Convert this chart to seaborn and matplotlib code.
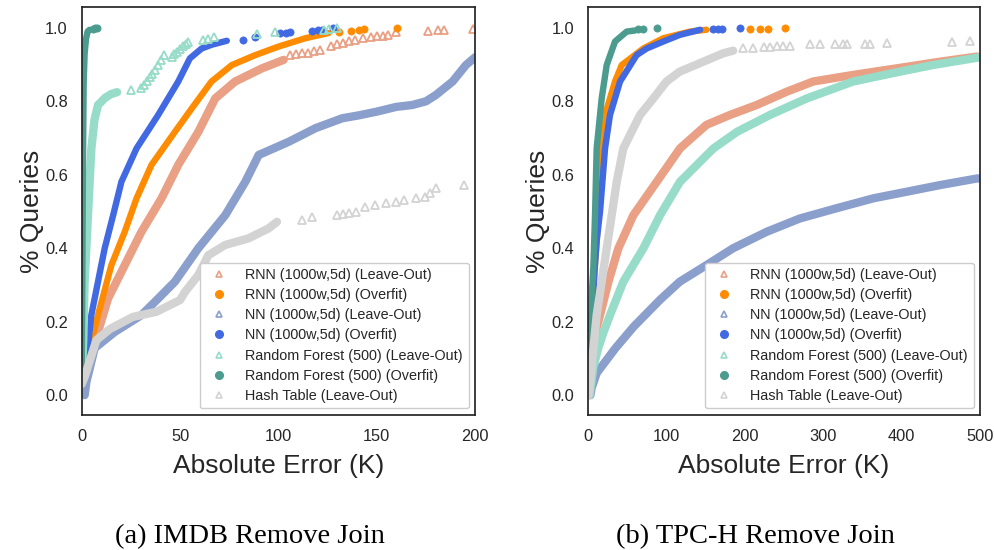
import matplotlib
matplotlib.use("Agg")
import matplotlib.pyplot as plt
from matplotlib.lines import Line2D
import seaborn as sns

# ---------------- data: IMDB Remove Join (panel a) ----------------
imdb_rnn_lo_x = [0.5, 3, 8.3, 13.4, 21.9, 30.4, 40.6, 49.1, 59.3, 67.9, 78, 91.7, 102.7]
imdb_rnn_lo_y = [0.02, 0.08, 0.172, 0.263, 0.354, 0.445, 0.536, 0.627, 0.717, 0.808, 0.854, 0.89, 0.913]
imdb_rnn_lo_tx = [106, 109, 112, 115, 118, 121, 127, 130, 133, 136, 139, 143, 147, 150, 153, 156, 160,
                  176, 181, 184, 199]
imdb_rnn_lo_ty = [0.926, 0.928, 0.931, 0.933, 0.936, 0.94, 0.952, 0.956, 0.96, 0.965, 0.968, 0.972, 0.975,
                  0.977, 0.979, 0.982, 0.988, 0.991, 0.993, 0.993, 0.996]

imdb_rnn_of_x = [0.5, 4, 8.3, 15.1, 21.9, 27.9, 35.5, 47.4, 56, 66, 76.4, 88.3, 100, 113.8, 125.5]
imdb_rnn_of_y = [0.03, 0.128, 0.218, 0.354, 0.445, 0.536, 0.627, 0.717, 0.781, 0.854, 0.899, 0.926, 0.949, 0.972, 0.986]
imdb_rnn_of_tx = [131, 137, 141, 143.5, 160.5]
imdb_rnn_of_ty = [0.988, 0.992, 0.995, 0.996, 1.0]

imdb_nn_lo_x = [1.5, 2.4, 6.6, 16.8, 30.4, 38.9, 47.4, 59.3, 73, 83.2, 90, 105.3, 118.9, 132.5,
                141, 150, 160, 168, 175, 180, 188.6, 195.4, 200]
imdb_nn_lo_y = [0.0, 0.036, 0.128, 0.172, 0.218, 0.263, 0.309, 0.40, 0.49, 0.581, 0.654, 0.69, 0.727, 0.754,
                0.762, 0.772, 0.785, 0.79, 0.80, 0.817, 0.854, 0.899, 0.92]
imdb_nn_lo_tx = []
imdb_nn_lo_ty = []

imdb_nn_of_x = [0.5, 2.5, 4.9, 11.7, 16, 20.2, 27.9, 38.9, 49.1, 55, 61, 66, 73.8]
imdb_nn_of_y = [0.03, 0.1, 0.218, 0.40, 0.49, 0.581, 0.672, 0.763, 0.854, 0.917, 0.944, 0.954, 0.965]
imdb_nn_of_tx = [82, 88, 101, 104, 106, 117, 120, 122, 128]
imdb_nn_of_ty = [0.967, 0.975, 0.986, 0.986, 0.988, 0.992, 0.993, 0.994, 1.0]

imdb_rf_lo_x = [0, 0.8, 1.5, 3.2, 4.9, 6.5, 8.3, 12, 15, 18]
imdb_rf_lo_y = [0.05, 0.15, 0.31, 0.49, 0.67, 0.75, 0.79, 0.81, 0.82, 0.825]
imdb_rf_lo_tx = [25, 30, 31.5, 33, 34.5, 36, 37.5, 39, 40.5, 42, 45.7, 47, 48.5, 50, 51.5, 53, 54,
                 61.5, 64, 67.4, 89, 98.5, 123, 126, 130]
imdb_rf_lo_ty = [0.83, 0.837, 0.845, 0.855, 0.865, 0.875, 0.885, 0.9, 0.912, 0.926, 0.92, 0.928, 0.935,
                 0.942, 0.95, 0.957, 0.963, 0.966, 0.97, 0.976, 0.984, 0.988, 0.994, 0.996, 1.0]

imdb_rf_of_x = [0, 0.3, 0.6, 1.0, 1.5, 2.2, 3.0, 4.0]
imdb_rf_of_y = [0.05, 0.3, 0.6, 0.85, 0.93, 0.97, 0.99, 0.995]
imdb_rf_of_tx = [5.5, 7, 8]
imdb_rf_of_ty = [0.998, 1.0, 1.0]

imdb_hash_x = [0, 1.5, 7.5, 14.3, 26, 38, 50, 52.5, 59.3, 64.4, 73, 84.8, 95, 99.3]
imdb_hash_y = [0.03, 0.05, 0.15, 0.18, 0.213, 0.227, 0.259, 0.281, 0.327, 0.381, 0.409, 0.427, 0.454, 0.472]
imdb_hash_tx = [112, 117, 130, 133, 136, 139.3, 144, 149, 154.6, 160, 164, 170, 174.5, 177, 180, 194.6]
imdb_hash_ty = [0.477, 0.486, 0.49, 0.492, 0.495, 0.499, 0.513, 0.518, 0.522, 0.527, 0.531, 0.536, 0.54, 0.55, 0.563, 0.572]

# ---------------- data: TPC-H Remove Join (panel b) ----------------
tpch_rnn_lo_x = [2, 4, 6.8, 15.3, 26, 38.7, 57.8, 87.6, 117.3, 151, 181, 215, 253, 287, 338, 394, 449, 496]
tpch_rnn_lo_y = [0.0, 0.08, 0.15, 0.218, 0.309, 0.40, 0.49, 0.581, 0.672, 0.736, 0.763, 0.79, 0.826, 0.854,
                 0.872, 0.89, 0.908, 0.922]
tpch_rnn_lo_tx = []
tpch_rnn_lo_ty = []

tpch_rnn_of_x = [1, 3, 5, 8, 12, 17.4, 21.7, 34.4, 43, 70.6, 96, 130, 151]
tpch_rnn_of_y = [0.0, 0.1, 0.2, 0.33, 0.45, 0.672, 0.763, 0.854, 0.899, 0.944, 0.972, 0.99, 0.995]
tpch_rnn_of_tx = [207, 219, 230, 251]
tpch_rnn_of_ty = [0.997, 0.998, 0.998, 1.0]

tpch_nn_lo_x = [3, 4.7, 11, 35, 58, 92, 117, 151, 185, 228, 270, 317, 364, 406.5, 449, 496, 500]
tpch_nn_lo_y = [0.0, 0.02, 0.06, 0.128, 0.186, 0.26, 0.309, 0.354, 0.40, 0.445, 0.481, 0.509, 0.536, 0.554,
                0.572, 0.59, 0.59]
tpch_nn_lo_tx = []
tpch_nn_lo_ty = []

tpch_nn_of_x = [1, 3, 5, 8, 11, 15.3, 21.7, 28, 40.8, 62, 74.8, 96, 117, 143]
tpch_nn_of_y = [0.0, 0.1, 0.2, 0.33, 0.42, 0.5, 0.672, 0.763, 0.854, 0.926, 0.944, 0.963, 0.981, 0.995]
tpch_nn_of_tx = [160, 166, 171, 194]
tpch_nn_of_ty = [0.997, 0.998, 0.998, 1.0]

tpch_rf_lo_x = [2, 6.8, 13, 19.5, 28, 45, 70.6, 91.8, 117.3, 160, 190, 232, 279, 338, 398, 440, 491, 500]
tpch_rf_lo_y = [0.0, 0.077, 0.128, 0.17, 0.218, 0.309, 0.40, 0.49, 0.581, 0.672, 0.717, 0.763, 0.808, 0.854,
                0.881, 0.899, 0.917, 0.92]
tpch_rf_lo_tx = []
tpch_rf_lo_ty = []

tpch_rf_of_x = [0.5, 3, 4.7, 6.8, 8.9, 11, 17.4, 23.8, 34.4, 49.3, 60]
tpch_rf_of_y = [0.0, 0.15, 0.27, 0.35, 0.49, 0.672, 0.808, 0.899, 0.963, 0.99, 0.993]
tpch_rf_of_tx = [64, 70.6, 87.6]
tpch_rf_of_ty = [0.996, 0.997, 1.0]

tpch_hash_x = [0.5, 2.6, 11, 23.8, 36.6, 45, 66.3, 83.3, 100, 117, 147, 172.6, 185]
tpch_hash_y = [0.0, 0.036, 0.218, 0.40, 0.581, 0.672, 0.763, 0.808, 0.854, 0.881, 0.908, 0.931, 0.938]
tpch_hash_tx = [198, 211, 224, 232, 241, 249, 258, 283, 296, 315, 325.6, 330, 353, 360, 381, 464, 487]
tpch_hash_ty = [0.944, 0.946, 0.948, 0.949, 0.95, 0.95, 0.951, 0.956, 0.956, 0.956, 0.957, 0.957, 0.957,
                0.957, 0.958, 0.963, 0.965]

series_labels = ["RNN (1000w,5d) (Leave-Out)", "RNN (1000w,5d) (Overfit)",
                 "NN (1000w,5d) (Leave-Out)", "NN (1000w,5d) (Overfit)",
                 "Random Forest (500) (Leave-Out)", "Random Forest (500) (Overfit)",
                 "Hash Table (Leave-Out)"]
x_ticks_a = [0, 50, 100, 150, 200]
x_ticks_b = [0, 100, 200, 300, 400, 500]
y_ticks = [0.0, 0.2, 0.4, 0.6, 0.8, 1.0]
captions = ["(a) IMDB Remove Join", "(b) TPC-H Remove Join"]

# ---------------- styling ----------------
colors = ["#e9a084", "#ff8c00", "#8b9fcc", "#4169e1", "#97dcc8", "#4b9b8e", "#d3d3d3"]
kinds = ["lo", "of", "lo", "of", "lo", "of", "lo"]

sns.set_theme(style="white")
plt.rcParams["font.family"] = ["Liberation Sans", "DejaVu Sans"]

fig = plt.figure(figsize=(9.95, 5.5), dpi=100)
ax_a = fig.add_axes([0.0821, 0.2455, 0.3953, 0.7418])
ax_b = fig.add_axes([0.591, 0.2455, 0.394, 0.7418])

panel_a = [
    (imdb_rnn_lo_x, imdb_rnn_lo_y, imdb_rnn_lo_tx, imdb_rnn_lo_ty),
    (imdb_rnn_of_x, imdb_rnn_of_y, imdb_rnn_of_tx, imdb_rnn_of_ty),
    (imdb_nn_lo_x, imdb_nn_lo_y, imdb_nn_lo_tx, imdb_nn_lo_ty),
    (imdb_nn_of_x, imdb_nn_of_y, imdb_nn_of_tx, imdb_nn_of_ty),
    (imdb_rf_lo_x, imdb_rf_lo_y, imdb_rf_lo_tx, imdb_rf_lo_ty),
    (imdb_rf_of_x, imdb_rf_of_y, imdb_rf_of_tx, imdb_rf_of_ty),
    (imdb_hash_x, imdb_hash_y, imdb_hash_tx, imdb_hash_ty),
]
panel_b = [
    (tpch_rnn_lo_x, tpch_rnn_lo_y, tpch_rnn_lo_tx, tpch_rnn_lo_ty),
    (tpch_rnn_of_x, tpch_rnn_of_y, tpch_rnn_of_tx, tpch_rnn_of_ty),
    (tpch_nn_lo_x, tpch_nn_lo_y, tpch_nn_lo_tx, tpch_nn_lo_ty),
    (tpch_nn_of_x, tpch_nn_of_y, tpch_nn_of_tx, tpch_nn_of_ty),
    (tpch_rf_lo_x, tpch_rf_lo_y, tpch_rf_lo_tx, tpch_rf_lo_ty),
    (tpch_rf_of_x, tpch_rf_of_y, tpch_rf_of_tx, tpch_rf_of_ty),
    (tpch_hash_x, tpch_hash_y, tpch_hash_tx, tpch_hash_ty),
]


def draw_panel(ax, panel, xmax, xticks, caption_x, caption):
    for (x, y, tx, ty), c, k in zip(panel, colors, kinds):
        lw = 6.0 if k == "lo" else 4.6
        sns.lineplot(x=x, y=y, ax=ax, color=c, lw=lw, sort=False, estimator=None,
                     solid_capstyle="round", solid_joinstyle="round")
        if len(tx):
            if k == "lo":
                sns.lineplot(x=tx, y=ty, ax=ax, color=c, sort=False, estimator=None,
                             linestyle="", marker="^", ms=6, mfc="none", mec=c, mew=1.3)
            else:
                sns.lineplot(x=tx, y=ty, ax=ax, color=c, sort=False, estimator=None,
                             linestyle="", marker="o", ms=5.2, mfc=c, mec=c, mew=0.5)
    ax.set_xlim(0, xmax)
    ax.set_ylim(-0.054, 1.057)
    ax.set_xticks(xticks)
    ax.set_yticks(y_ticks)
    ax.set_yticklabels([f"{v:.1f}" for v in y_ticks])
    ax.tick_params(axis="both", length=0, labelsize=11.8, labelcolor="#262626")
    ax.tick_params(axis="x", pad=10)
    ax.tick_params(axis="y", pad=10)
    ax.set_xlabel("Absolute Error (K)", fontsize=19, color="#262626", labelpad=7)
    ax.set_ylabel("% Queries", fontsize=19, color="#262626", labelpad=1)
    for s in ax.spines.values():
        s.set_color("#262626")
        s.set_linewidth(1.25)
    handles = []
    for c, k, lab in zip(colors, kinds, series_labels):
        if k == "lo":
            h = Line2D([], [], linestyle="", marker="^", ms=5, mfc="none", mec=c, mew=1.2, label=lab)
        else:
            h = Line2D([], [], linestyle="", marker="o", ms=5.5, mfc=c, mec=c, label=lab)
        handles.append(h)
    leg = ax.legend(handles=handles, loc="lower right", fontsize=10.4, frameon=True,
                    handlelength=1.85, handletextpad=0.9, labelspacing=0.42,
                    borderpad=0.4, borderaxespad=0.45, fancybox=True, framealpha=1.0)
    leg.get_frame().set_edgecolor("#cccccc")
    for t in leg.get_texts():
        t.set_color("#262626")
    fig.text(caption_x, 1 - 537 / 550, caption, ha="center", va="center",
             fontsize=20.5, family=["Liberation Serif", "DejaVu Serif"], color="black")


draw_panel(ax_a, panel_a, 200, x_ticks_a, 250 / 995, captions[0])
draw_panel(ax_b, panel_b, 500, x_ticks_b, 755 / 995, captions[1])

fig.savefig("out.png", dpi=100)
